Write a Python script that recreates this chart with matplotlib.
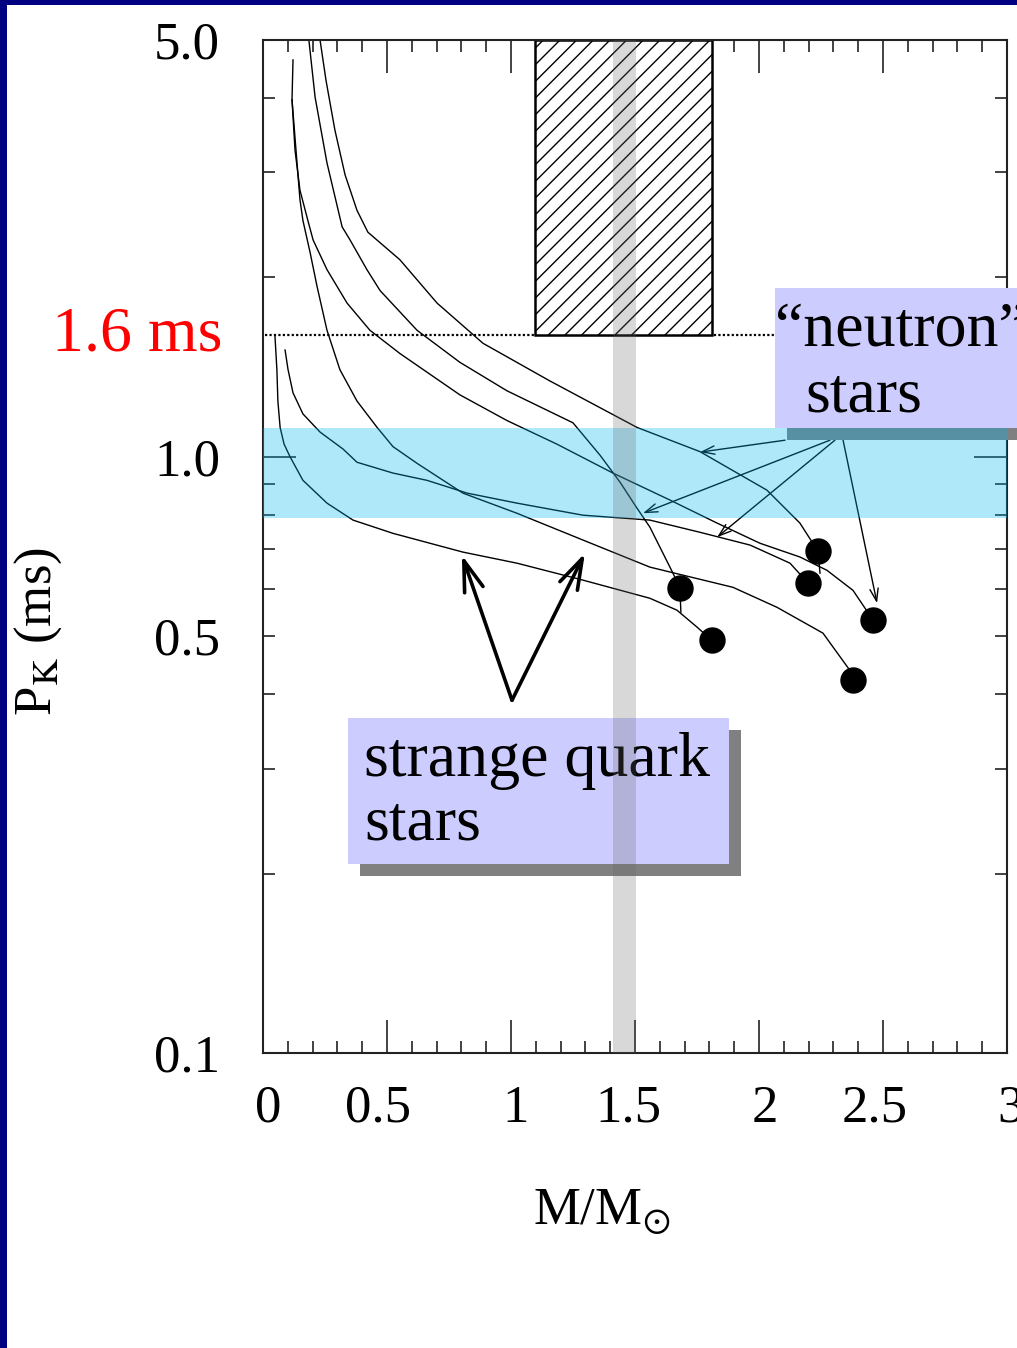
import matplotlib
matplotlib.use("Agg")
import matplotlib.pyplot as plt
import matplotlib.transforms as mtransforms
from matplotlib.patches import Rectangle
from matplotlib.ticker import FixedLocator, FixedFormatter

plt.rcParams['font.family'] = ['Liberation Serif', 'DejaVu Serif']
plt.rcParams['mathtext.fontset'] = 'stix'
plt.rcParams['hatch.linewidth'] = 1.0

# ---------------- data (M/Msun , Kepler period in ms) ----------------
curve_a_m = [0.230, 0.254, 0.290, 0.331, 0.379, 0.423, 0.552, 0.702, 0.887, 1.157, 1.508, 1.762, 2.032, 2.165, 2.238, 2.246]
curve_a_p = [5.00, 4.28, 3.53, 2.97, 2.59, 2.38, 2.14, 1.81, 1.55, 1.34, 1.12, 1.02, 0.879, 0.774, 0.694, 0.638]

curve_b_m = [0.185, 0.210, 0.258, 0.319, 0.351, 0.419, 0.472, 0.621, 0.794, 0.984, 1.250, 1.359, 1.440, 1.508, 1.560, 1.653, 1.681, 1.685]
curve_b_p = [5.00, 4.01, 3.11, 2.43, 2.31, 2.06, 1.90, 1.63, 1.44, 1.29, 1.14, 1.006, 0.906, 0.820, 0.762, 0.638, 0.602, 0.549]

curve_c_m = [0.121, 0.117, 0.129, 0.149, 0.181, 0.202, 0.258, 0.339, 0.431, 0.552, 0.794, 0.984, 1.185, 1.411, 1.641, 1.831, 2.004, 2.165, 2.274, 2.379, 2.460]
curve_c_p = [4.63, 3.97, 3.27, 2.80, 2.49, 2.31, 2.06, 1.81, 1.63, 1.49, 1.27, 1.15, 1.05, 0.939, 0.846, 0.774, 0.716, 0.679, 0.645, 0.597, 0.532]

curve_d_m = [0.117, 0.133, 0.149, 0.161, 0.190, 0.218, 0.258, 0.310, 0.379, 0.460, 0.524, 0.621, 0.806, 1.024, 1.290, 1.560, 1.895, 2.073, 2.258, 2.367, 2.379]
curve_d_p = [3.97, 3.27, 2.70, 2.49, 2.20, 1.93, 1.63, 1.40, 1.24, 1.12, 1.04, 0.975, 0.869, 0.804, 0.725, 0.653, 0.604, 0.559, 0.506, 0.438, 0.422]

curve_e_m = [0.048, 0.056, 0.060, 0.069, 0.085, 0.109, 0.161, 0.258, 0.363, 0.524, 0.806, 1.024, 1.290, 1.560, 1.669, 1.750, 1.810]
curve_e_p = [1.60, 1.40, 1.24, 1.12, 1.05, 1.00, 0.913, 0.836, 0.783, 0.744, 0.692, 0.663, 0.621, 0.579, 0.553, 0.518, 0.492]

curve_f_m = [0.089, 0.101, 0.121, 0.161, 0.230, 0.323, 0.379, 0.524, 0.661, 0.823, 1.024, 1.290, 1.560, 1.762, 1.964, 2.125, 2.198]
curve_f_p = [1.51, 1.40, 1.28, 1.18, 1.10, 1.03, 0.979, 0.939, 0.913, 0.869, 0.836, 0.798, 0.783, 0.747, 0.711, 0.663, 0.614]

dot_m = [2.238, 2.198, 1.681, 1.810, 2.460, 2.379]
dot_p = [0.694, 0.614, 0.602, 0.492, 0.532, 0.422]

limit_period = 1.6                 # 1.6 ms line
excluded_m = (1.097, 1.81)         # hatched region
pulsar_band_p = (0.789, 1.117)     # cyan band
mass_band_m = (1.411, 1.504)       # grey band

xtick_vals = [0, 0.5, 1, 1.5, 2, 2.5, 3]
xtick_labels = ['0', '0.5', '1', '1.5', '2', '2.5', '3']
ytick_major = [0.1, 1.0]
ytick_major_labels = ['0.1', '1.0']
ytick_minor = [0.2, 0.3, 0.4, 0.5, 0.6, 0.7, 0.8, 0.9, 2, 3, 4, 5]
ytick_minor_labels = ['', '', '', '0.5', '', '', '', '', '', '', '', '5.0']

# arrows: (tail M, tail P) -> (head M, head P)
sq_arrows = [((1.004, 0.3905), (0.802, 0.684)), ((1.004, 0.3905), (1.298, 0.689))]
ns_arrows = [((2.105, 1.066), (1.762, 1.018)), ((2.286, 1.066), (1.532, 0.804)),
             ((2.306, 1.066), (1.831, 0.733)), ((2.339, 1.066), (2.476, 0.568))]

# ---------------- figure ----------------
W, H = 1017, 1348
fig = plt.figure(figsize=(W / 100, H / 100), dpi=100)
fig.patch.set_facecolor('white')


def fx(px):
    return px / W


def fy(py):
    return 1 - py / H


ax = fig.add_axes([fx(263), fy(1053), fx(1007) - fx(263), fy(40) - fy(1053)])
ax.set_yscale('log')
ax.set_xlim(0, 3)
ax.set_ylim(0.1, 5.0)

for m, p in [(curve_a_m, curve_a_p), (curve_b_m, curve_b_p), (curve_c_m, curve_c_p),
             (curve_d_m, curve_d_p), (curve_e_m, curve_e_p), (curve_f_m, curve_f_p)]:
    ax.plot(m, p, color='black', lw=1.0, zorder=2, solid_joinstyle='round')

ax.plot(dot_m, dot_p, 'o', color='black', ms=18, zorder=3)

# 1.6 ms dotted line and hatched region
ax.plot([0.008, 2.1], [limit_period, limit_period], color='black', lw=1.6,
        ls=(0, (1, 1)), zorder=2)
ax.add_patch(Rectangle((excluded_m[0], limit_period), excluded_m[1] - excluded_m[0],
                       5.0 - limit_period, facecolor='white', edgecolor='black',
                       hatch='//', lw=1.8, zorder=2.2))

# arrows
for (tail, head) in sq_arrows:
    ax.annotate('', xy=head, xytext=tail,
                arrowprops=dict(arrowstyle='->,head_length=1.1,head_width=0.35',
                                lw=2.6, color='black', shrinkA=0, shrinkB=0,
                                mutation_scale=20), zorder=3)
for (tail, head) in ns_arrows:
    ax.annotate('', xy=head, xytext=tail,
                arrowprops=dict(arrowstyle='->,head_length=0.9,head_width=0.3',
                                lw=1.0, color='black', shrinkA=0, shrinkB=0,
                                mutation_scale=10), zorder=3)

# annotation boxes (figure-pixel placement)
tf = fig.transFigure
box_col = '#CCCCFF'
shadow_col = '#808080'
# strange quark stars
ax.add_patch(Rectangle((fx(360), fy(876)), fx(741) - fx(360), fy(730) - fy(876),
                       transform=tf, facecolor=shadow_col, lw=0, clip_on=False, zorder=3.5))
ax.add_patch(Rectangle((fx(348), fy(864)), fx(729) - fx(348), fy(718) - fy(864),
                       transform=tf, facecolor=box_col, lw=0, clip_on=False, zorder=3.6))
ax.text(fx(364), fy(776), 'strange quark', transform=tf, fontsize=46,
        ha='left', va='baseline', zorder=3.7, clip_on=False)
ax.text(fx(364), fy(840), 'stars', transform=tf, fontsize=46,
        ha='left', va='baseline', zorder=3.7, clip_on=False)
# neutron stars
ax.add_patch(Rectangle((fx(787), fy(440)), fx(1040) - fx(787), fy(300) - fy(440),
                       transform=tf, facecolor=shadow_col, lw=0, clip_on=False, zorder=3.5))
ax.add_patch(Rectangle((fx(775), fy(428)), fx(1040) - fx(775), fy(288) - fy(428),
                       transform=tf, facecolor=box_col, lw=0, clip_on=False, zorder=3.6))
ax.text(fx(775), fy(345), '\u201cneutron\u201d', transform=tf, fontsize=46,
        ha='left', va='baseline', zorder=3.7, clip_on=False)
ax.text(fx(805), fy(412), 'stars', transform=tf, fontsize=46,
        ha='left', va='baseline', zorder=3.7, clip_on=False)

# bands
ax.axhspan(pulsar_band_p[0], pulsar_band_p[1], color=(0.0, 0.714, 0.937),
           alpha=0.314, lw=0, zorder=4)
ax.axvspan(mass_band_m[0], mass_band_m[1], color=(0.4, 0.4, 0.4),
           alpha=0.255, lw=0, zorder=5)

# 1.6 ms label
ax.text(fx(222), limit_period, '1.6 ms', color='red', fontsize=46,
        transform=mtransforms.blended_transform_factory(tf, ax.transData),
        ha='right', va='center', clip_on=False)

# ticks
ax.xaxis.set_major_locator(FixedLocator(xtick_vals))
ax.xaxis.set_major_formatter(FixedFormatter(xtick_labels))
ax.xaxis.set_minor_locator(FixedLocator([i / 10 for i in range(31) if i % 5 != 0]))
ax.yaxis.set_major_locator(FixedLocator(ytick_major))
ax.yaxis.set_major_formatter(FixedFormatter(ytick_major_labels))
ax.yaxis.set_minor_locator(FixedLocator(ytick_minor))
ax.yaxis.set_minor_formatter(FixedFormatter(ytick_minor_labels))

ax.tick_params(which='both', direction='in', top=True, right=True, width=1.2,
               color='#222222', labelsize=38)
ax.tick_params(which='major', length=24)
ax.tick_params(which='minor', length=8.5)
ax.tick_params(axis='x', which='both', pad=23)
ax.tick_params(axis='y', which='both', pad=31)
for s in ax.spines.values():
    s.set_linewidth(1.5)
    s.set_color('#222222')

# small horizontal offsets of x tick labels as in the original slide (pixels)
label_shift_px = [5, -9, 5, -7, 6, -8, 3]
fig.canvas.draw()
for lab, dx in zip(ax.get_xticklabels(), label_shift_px):
    lab.set_transform(lab.get_transform() +
                      mtransforms.ScaledTranslation(dx / 100, 0, fig.dpi_scale_trans))

ax.set_xlabel(r'M/M$_{\odot}$', fontsize=38)
ax.xaxis.set_label_coords(0.456, -0.133)
ax.set_ylabel(r'P$_{\mathrm{K}}$ (ms)', fontsize=38)
ax.yaxis.set_label_coords(-0.2675, 0.4156)

# navy slide border
fig.patches.append(Rectangle((0, fy(5)), 1, fy(0) - fy(5), transform=tf,
                             facecolor='#000080', lw=0, zorder=20))
fig.patches.append(Rectangle((0, 0), fx(7), 1, transform=tf,
                             facecolor='#000080', lw=0, zorder=20))

fig.savefig('out.png', dpi=100)
